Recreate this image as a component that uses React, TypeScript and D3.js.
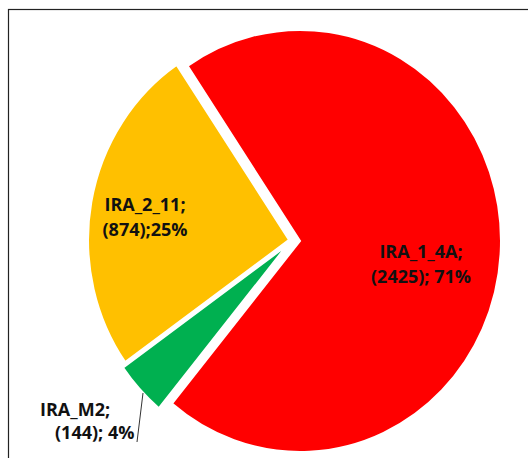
import * as d3 from "d3";
import React, { useEffect, useRef } from "react";

// slice data (clockwise from the first slice)
const categories = ["IRA_1_4A", "IRA_M2", "IRA_2_11"];
const counts = [2425, 144, 874];
const percents = ["71%", "4%", "25%"];
const colors = ["#FF0000", "#00B050", "#FFC000"];
const explode = [8, 7, 3];

// label lines as shown in the chart
const labelLine1 = ["IRA_1_4A;", "IRA_M2;", "IRA_2_11;"];
const labelLine2 = ["(2425); 71%", "(144); 4%", "(874);25%"];

function PieChart() {
    const ref = useRef(null);

    function drawChart() {
        d3.select(ref.current).selectAll("*").remove();
        const svg = d3.select(ref.current);

        const cx = 292;
        const cy = 240.5;
        const radius = 201;
        const squash = 1.05; // the picture is a bit taller than wide

        // chart border
        svg.append("rect")
            .attr("x", 8.5)
            .attr("y", 9.5)
            .attr("width", 560)
            .attr("height", 480)
            .attr("fill", "#fff")
            .attr("stroke", "#222")
            .attr("stroke-width", 1.2);

        const start = (-34 * Math.PI) / 180;
        const pie = d3
            .pie()
            .sort(null)
            .value((d) => d.count)
            .startAngle(start)
            .endAngle(start + 2 * Math.PI);

        const data = categories.map((c, i) => ({
            name: c,
            count: counts[i],
            pct: percents[i],
            color: colors[i],
            explode: explode[i],
        }));
        const arcs = pie(data);

        const arc = d3.arc().innerRadius(0).outerRadius(radius);

        const g = svg
            .append("g")
            .attr("transform", `translate(${cx},${cy}) scale(1,${squash})`);

        g.selectAll("path")
            .data(arcs)
            .enter()
            .append("path")
            .attr("d", arc)
            .attr("fill", (d) => d.data.color)
            .attr("stroke", "#fff")
            .attr("stroke-width", 2)
            .attr("stroke-linejoin", "miter")
            .attr("transform", (d) => {
                const mid = (d.startAngle + d.endAngle) / 2;
                const dx = d.data.explode * Math.sin(mid);
                const dy = -d.data.explode * Math.cos(mid);
                return `translate(${dx},${dy})`;
            });

        // leader line for the small slice
        svg.append("line")
            .attr("x1", 143)
            .attr("y1", 393)
            .attr("x2", 137)
            .attr("y2", 442)
            .attr("stroke", "#333")
            .attr("stroke-width", 1);

        // labels: [x line1, x line2, y of first baseline, anchor]
        const labelPos = [
            [421, 421, 258, "middle"],
            [40, 55, 416, "start"],
            [145, 145, 211, "middle"],
        ];
        const labels = svg
            .selectAll(".label")
            .data(data)
            .enter()
            .append("text")
            .attr("class", "label")
            .attr("font-family", "'Open Sans', sans-serif")
            .attr("font-weight", "bold")
            .attr("font-size", 18)
            .attr("fill", "#111")
            .attr("text-anchor", (d, i) => labelPos[i][3]);

        labels.append("tspan")
            .attr("x", (d, i) => labelPos[i][0])
            .attr("y", (d, i) => labelPos[i][2])
            .text((d, i) => labelLine1[i]);
        labels.append("tspan")
            .attr("x", (d, i) => labelPos[i][1])
            .attr("y", (d, i) => labelPos[i][2] + (i === 1 ? 23 : 25))
            .text((d, i) => labelLine2[i]);
    }

    useEffect(() => {
        drawChart();
    }, []);

    return (
        <svg
            ref={ref}
            width={528}
            height={458}
            style={{ position: "absolute", left: 0, top: 0, background: "#fff" }}
        ></svg>
    );
}

export default function App() {
    return <PieChart />;
}
